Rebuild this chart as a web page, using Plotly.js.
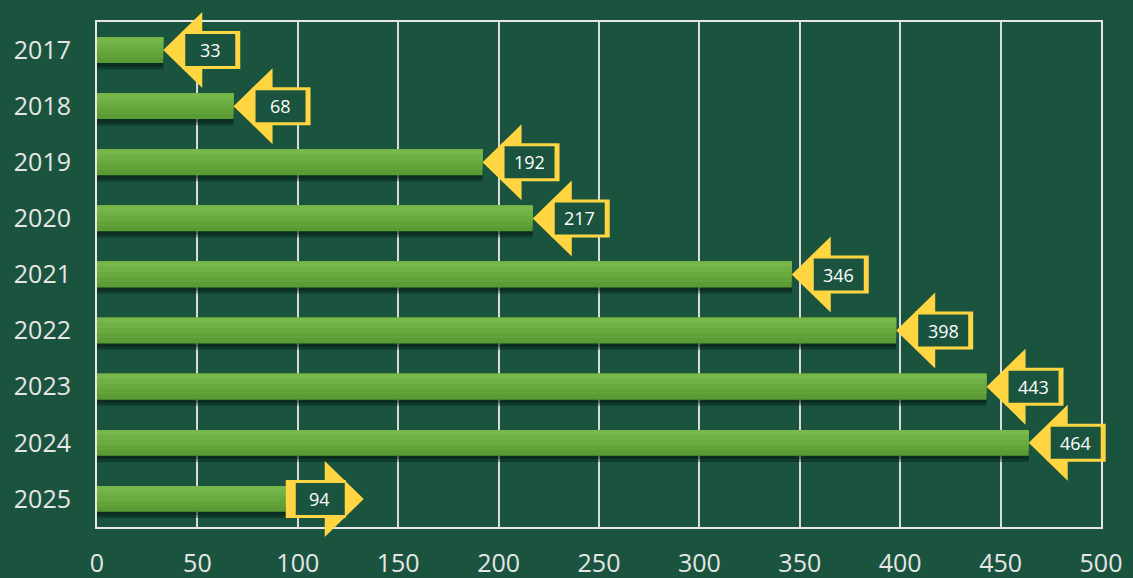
<!DOCTYPE html>
<html>
<head>
<meta charset="utf-8">
<script src="https://cdn.plot.ly/plotly-3.0.1.min.js"></script>
<style>
  html, body { margin: 0; padding: 0; background: #1a543e; }
  #chart { width: 1133px; height: 578px; }
</style>
</head>
<body>
<div id="chart"></div>
<script>
// ---- data ----
var years = [2017, 2018, 2019, 2020, 2021, 2022, 2023, 2024, 2025];
var values = [33, 68, 192, 217, 346, 398, 443, 464, 94];
var xTicks = [0, 50, 100, 150, 200, 250, 300, 350, 400, 450, 500];
var partialYear = 2025; // callout points right for the partial year

// ---- style ----
var BG = '#1a543e';
var YELLOW = '#ffd542';
var BAR_W = 0.46;

function barLayer(color, frac, shift) {
  return {
    type: 'bar', orientation: 'h', x: values, y: years,
    width: BAR_W * frac, offset: -BAR_W / 2 + (shift || 0),
    marker: { color: color, line: { width: 0 } },
    hoverinfo: 'skip'
  };
}
var traces = [
  barLayer('rgba(0,18,8,0.35)', 1, 0.11),
  barLayer('rgba(0,18,8,0.35)', 1, 0.06),
  barLayer('#5b9b33', 1),
  barLayer('#62a239', 0.8),
  barLayer('#69aa3f', 0.6),
  barLayer('#70b145', 0.4),
  barLayer('#77b74b', 0.2)
];

var shapes = [];
var annotations = [];
years.forEach(function (yr, i) {
  var v = values[i];
  var common = { xref: 'x', yref: 'y', xsizemode: 'pixel', ysizemode: 'pixel',
                 xanchor: v, yanchor: yr, line: { width: 0 }, layer: 'above' };
  var tri, outer, inner, textShift;
  if (yr === partialYear) {
    outer = [0, 60]; inner = [10, 59];
    tri = 'M39,38 L78,0 L39,-38 Z';
    textShift = 34;
  } else {
    outer = [19, 77]; inner = [22, 72];
    tri = 'M0,0 L39,38 L39,-38 Z';
    textShift = 47;
  }
  shapes.push(Object.assign({}, common, { type: 'path', path: tri, fillcolor: YELLOW }));
  shapes.push(Object.assign({}, common, { type: 'rect', x0: outer[0], x1: outer[1], y0: -19, y1: 19, fillcolor: YELLOW }));
  shapes.push(Object.assign({}, common, { type: 'rect', x0: inner[0], x1: inner[1], y0: -16, y1: 16, fillcolor: BG }));
  annotations.push({
    xref: 'x', yref: 'y', x: v, y: yr, xshift: textShift, yshift: 0,
    text: String(v), showarrow: false,
    font: { family: 'Open Sans, sans-serif', size: 18, color: '#ffffff' }
  });
});

var layout = {
  width: 1133, height: 578,
  paper_bgcolor: BG, plot_bgcolor: BG,
  margin: { l: 97, r: 32, t: 22, b: 51, pad: 0 },
  barmode: 'overlay',
  showlegend: false,
  font: { family: 'Open Sans, sans-serif', color: '#e6e6e6' },
  xaxis: {
    range: [0, 500], tickvals: xTicks, ticks: '',
    showgrid: true, gridcolor: '#d9d9d9', gridwidth: 2,
    showline: true, linecolor: '#e6e6e6', linewidth: 2, mirror: true,
    zeroline: false, ticklabelstandoff: 13,
    tickfont: { size: 25, color: '#e6e6e6' }, fixedrange: true
  },
  yaxis: {
    range: [partialYear + 0.5, years[0] - 0.5], tickvals: years, tickformat: 'd',
    ticks: '', showgrid: false,
    showline: true, linecolor: '#e6e6e6', linewidth: 2, mirror: true,
    zeroline: false, ticklabelstandoff: 19,
    tickfont: { size: 25, color: '#e6e6e6' }, fixedrange: true
  },
  shapes: shapes,
  annotations: annotations
};

function unclipShapes() {
  document.querySelectorAll('.shapelayer path').forEach(function (p) {
    var el = p;
    while (el && el.tagName && el.tagName.toLowerCase() !== 'svg') {
      if (el.hasAttribute && el.hasAttribute('clip-path')) el.removeAttribute('clip-path');
      if (el.style && el.style.clipPath) el.style.clipPath = '';
      el = el.parentNode;
    }
  });
}

Plotly.newPlot('chart', traces, layout, { displayModeBar: false, staticPlot: true })
  .then(function () { unclipShapes(); setTimeout(unclipShapes, 0); });
</script>
</body>
</html>
